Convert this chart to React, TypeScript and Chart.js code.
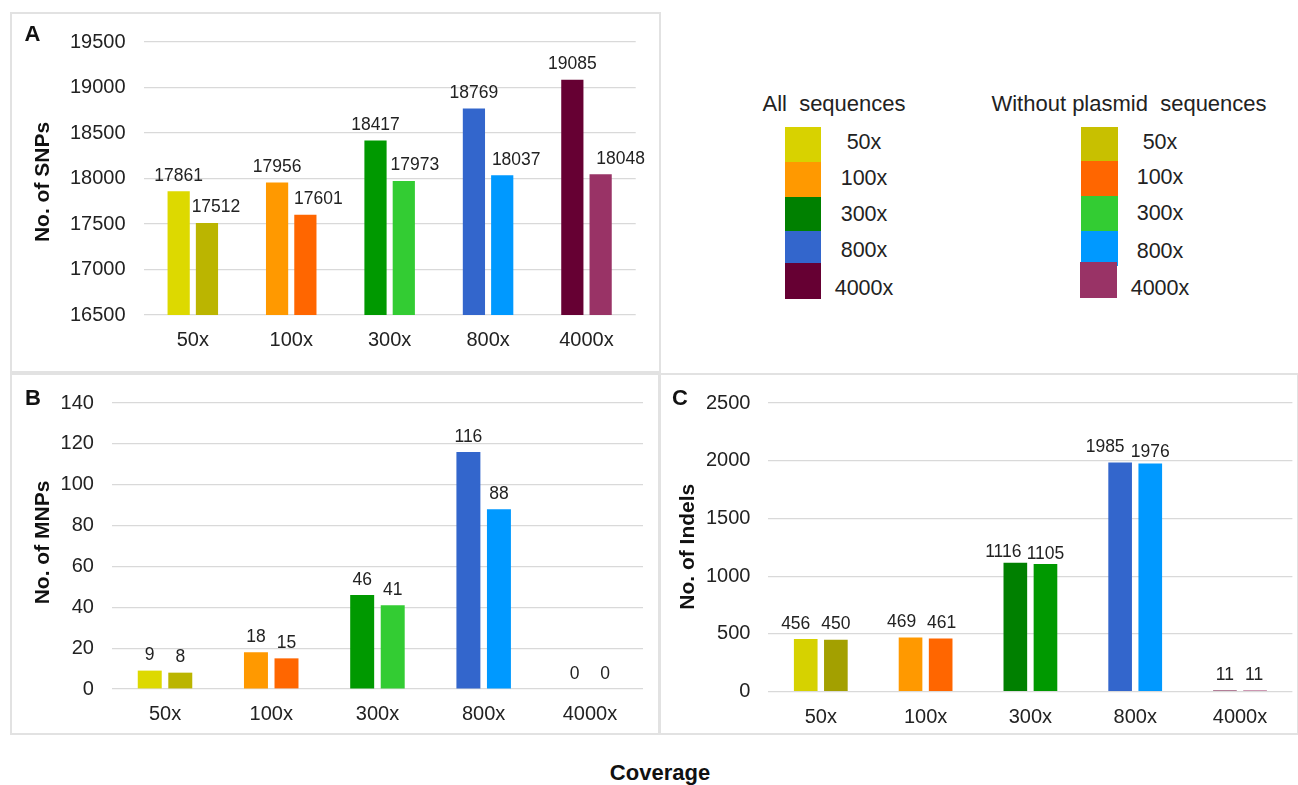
import React, { useEffect, useRef } from 'react';
import { Chart, registerables } from 'chart.js';

Chart.register(...registerables);

// ---------- data ----------
const categories = ['50x', '100x', '300x', '800x', '4000x'];

const snpsAll = [17861, 17956, 18417, 18769, 19085];
const snpsNoPlasmid = [17512, 17601, 17973, 18037, 18048];

const mnpsAll = [9, 18, 46, 116, 0];
const mnpsNoPlasmid = [8, 15, 41, 88, 0];

const indelsAll = [456, 469, 1116, 1985, 11];
const indelsNoPlasmid = [450, 461, 1105, 1976, 11];

const snpTicks = { min: 16500, max: 19500, step: 500 };
const mnpTicks = { min: 0, max: 140, step: 20 };
const indelTicks = { min: 0, max: 2500, step: 500 };

const legendTitleAll = 'All  sequences';
const legendTitleNo = 'Without plasmid  sequences';
const xTitle = 'Coverage';

// ---------- styles ----------
const FONT = '"Liberation Sans", Arial, Helvetica, sans-serif';
const TEXT = '#222222';
const GRID = '#d9d9d9';

const colorsAllAB = ['#DDD900', '#FF9900', '#009900', '#3366CC', '#660033'];
const colorsNoAB = ['#BBB500', '#FF6600', '#33CC33', '#0099FF', '#993366'];
const colorsAllC = ['#D6D200', '#FF9900', '#008000', '#3366CC', '#660033'];
const colorsNoC = ['#A3A000', '#FF6600', '#009900', '#0099FF', '#993366'];

const legendColorsAll = ['#D8D200', '#FF9900', '#008000', '#3366CC', '#660033'];
const legendColorsNo = ['#C8C000', '#FF6600', '#33CC33', '#0099FF', '#993366'];

const X_AXIS_H = 40;
const LABEL_GAP = 10.5;

type Panel = {
  letter: string;
  yTitle: string;
  all: number[];
  no: number[];
  cAll: string[];
  cNo: string[];
  ticks: { min: number; max: number; step: number };
  box: { left: number; top: number; w: number; h: number };
  area: { left: number; top: number; right: number; bottom: number };
  letterPos: [number, number];
  titlePos: [number, number];
  dx: [number[], number[]];
  dy: [number[], number[]];
};

const zeros = [0, 0, 0, 0, 0];

const panels: Panel[] = [
  {
    letter: 'A',
    yTitle: 'No. of SNPs',
    all: snpsAll,
    no: snpsNoPlasmid,
    cAll: colorsAllAB,
    cNo: colorsNoAB,
    ticks: snpTicks,
    box: { left: 10, top: 12, w: 651, h: 361 },
    area: { left: 133.6, top: 21, right: 625.7, bottom: 303 },
    letterPos: [22.5, 23],
    titlePos: [33.5, 170],
    dx: [zeros, [9, 13, 11, 14, 20]],
    dy: [zeros, zeros],
  },
  {
    letter: 'B',
    yTitle: 'No. of MNPs',
    all: mnpsAll,
    no: mnpsNoPlasmid,
    cAll: colorsAllAB,
    cNo: colorsNoAB,
    ticks: mnpTicks,
    box: { left: 10, top: 373, w: 650, h: 362 },
    area: { left: 101.9, top: 19.7, right: 633, bottom: 316 },
    letterPos: [23, 25.7],
    titlePos: [33, 169.5],
    dx: [zeros, zeros],
    dy: [zeros, zeros],
  },
  {
    letter: 'C',
    yTitle: 'No. of Indels',
    all: indelsAll,
    no: indelsNoPlasmid,
    cAll: colorsAllC,
    cNo: colorsNoC,
    ticks: indelTicks,
    box: { left: 659, top: 373, w: 640, h: 362 },
    area: { left: 109.4, top: 18.7, right: 633.4, bottom: 318.7 },
    letterPos: [21, 25.9],
    titlePos: [29.6, 173.7],
    dx: [[-10, -9, -12, -15, 0], [0, 1, 0, 0, -1]],
    dy: [[0, 0, 5, 0, 0], [0, 0, 5, 4, 0]],
  },
];

function PanelChart({ p }: { p: Panel }) {
  const ref = useRef<HTMLCanvasElement | null>(null);
  useEffect(() => {
    if (!ref.current) return;
    const textPlugin = {
      id: 'panelText' + p.letter,
      afterDatasetsDraw(chart: any) {
        const ctx = chart.ctx as CanvasRenderingContext2D;
        ctx.save();
        ctx.fillStyle = TEXT;
        ctx.font = `17.5px ${FONT}`;
        ctx.textAlign = 'center';
        ctx.textBaseline = 'alphabetic';
        chart.data.datasets.forEach((ds: any, i: number) => {
          const meta = chart.getDatasetMeta(i);
          meta.data.forEach((el: any, j: number) => {
            const v = ds.data[j];
            ctx.fillText(String(v), el.x + p.dx[i][j], el.y - LABEL_GAP + p.dy[i][j]);
          });
        });
        ctx.restore();
      },
      afterDraw(chart: any) {
        const ctx = chart.ctx as CanvasRenderingContext2D;
        ctx.save();
        ctx.fillStyle = '#111111';
        ctx.textAlign = 'center';
        ctx.textBaseline = 'middle';
        ctx.font = `bold 22px ${FONT}`;
        ctx.fillText(p.letter, p.letterPos[0], p.letterPos[1]);
        ctx.translate(p.titlePos[0], p.titlePos[1]);
        ctx.rotate(-Math.PI / 2);
        ctx.font = `bold 21px ${FONT}`;
        ctx.fillText(p.yTitle, 0, 0);
        ctx.restore();
      },
    };
    const chart = new Chart(ref.current, {
      type: 'bar',
      data: {
        labels: categories,
        datasets: [
          {
            label: 'All sequences',
            data: p.all,
            backgroundColor: p.cAll,
            borderWidth: 0,
            categoryPercentage: 0.575,
            barPercentage: 0.785,
          },
          {
            label: 'Without plasmid sequences',
            data: p.no,
            backgroundColor: p.cNo,
            borderWidth: 0,
            categoryPercentage: 0.575,
            barPercentage: 0.785,
          },
        ],
      },
      options: {
        animation: false,
        responsive: false,
        maintainAspectRatio: false,
        events: [],
        layout: {
          padding: {
            left: 0,
            top: p.area.top,
            right: p.box.w - p.area.right,
            bottom: p.box.h - p.area.bottom - X_AXIS_H,
          },
        },
        plugins: {
          legend: { display: false },
          tooltip: { enabled: false },
          title: { display: false },
        },
        scales: {
          x: {
            grid: { display: false, drawTicks: false },
            border: { display: false },
            ticks: {
              padding: 13.5,
              color: TEXT,
              font: { family: FONT, size: 20 },
              maxRotation: 0,
              autoSkip: false,
            },
            afterFit: (s: any) => {
              s.height = X_AXIS_H;
            },
          },
          y: {
            min: p.ticks.min,
            max: p.ticks.max,
            ticks: {
              stepSize: p.ticks.step,
              padding: 18,
              color: TEXT,
              font: { family: FONT, size: 20 },
              callback: (v: any) => String(v),
            },
            grid: { color: GRID, lineWidth: 1.2, drawTicks: false },
            border: { display: false },
            afterFit: (s: any) => {
              s.width = p.area.left;
            },
          },
        },
      } as any,
      plugins: [textPlugin],
    });
    return () => chart.destroy();
  }, [p]);
  return (
    <canvas
      ref={ref}
      width={p.box.w}
      height={p.box.h}
      style={{ position: 'absolute', left: p.box.left, top: p.box.top, width: p.box.w, height: p.box.h }}
    />
  );
}

const swatchTopsAll = [126.7, 161.7, 196.7, 230.7, 262.7];
const swatchHeightsAll = [35, 35, 34, 32, 36.3];
const swatchTopsNo = [126.7, 160.7, 195.7, 230.7, 261.7];
const swatchHeightsNo = [34, 35, 35, 35.3, 36];
const labelCentersAll = [142, 177.5, 214, 250, 288];
const labelCentersNo = [141.7, 176.7, 213.3, 250.7, 288.3];

export default function App() {
  const textStyle: React.CSSProperties = {
    position: 'absolute',
    fontFamily: FONT,
    color: TEXT,
    whiteSpace: 'pre',
    lineHeight: '26px',
    height: 26,
    transform: 'translate(-50%, -50%)',
  };
  return (
    <div style={{ position: 'absolute', left: 0, top: 0, width: 1298, height: 785, background: '#ffffff', overflow: 'hidden' }}>
      {panels.map((p) => (
        <div
          key={'b' + p.letter}
          style={{
            position: 'absolute',
            left: p.box.left,
            top: p.box.top,
            width: p.box.w,
            height: p.box.h,
            border: '2px solid #e2e2e2',
            boxSizing: 'border-box',
          }}
        />
      ))}
      {panels.map((p) => (
        <PanelChart key={p.letter} p={p} />
      ))}

      {/* legend */}
      <div style={{ ...textStyle, left: 834, top: 104, fontSize: 22 }}>{legendTitleAll}</div>
      <div style={{ ...textStyle, left: 1129, top: 104, fontSize: 22 }}>{legendTitleNo}</div>
      {categories.map((c, i) => (
        <React.Fragment key={'la' + c}>
          <div
            style={{
              position: 'absolute',
              left: 785.3,
              top: swatchTopsAll[i],
              width: 36.2,
              height: swatchHeightsAll[i],
              background: legendColorsAll[i],
            }}
          />
          <div style={{ ...textStyle, left: 864, top: labelCentersAll[i], fontSize: 21.5 }}>{c}</div>
        </React.Fragment>
      ))}
      {categories.map((c, i) => (
        <React.Fragment key={'ln' + c}>
          <div
            style={{
              position: 'absolute',
              left: i === 4 ? 1080 : 1081,
              top: swatchTopsNo[i],
              width: 36.6,
              height: swatchHeightsNo[i],
              background: legendColorsNo[i],
            }}
          />
          <div style={{ ...textStyle, left: 1160, top: labelCentersNo[i], fontSize: 21.5 }}>{c}</div>
        </React.Fragment>
      ))}

      <div style={{ ...textStyle, left: 660, top: 773, fontSize: 22, fontWeight: 'bold', color: '#111111' }}>{xTitle}</div>
    </div>
  );
}
